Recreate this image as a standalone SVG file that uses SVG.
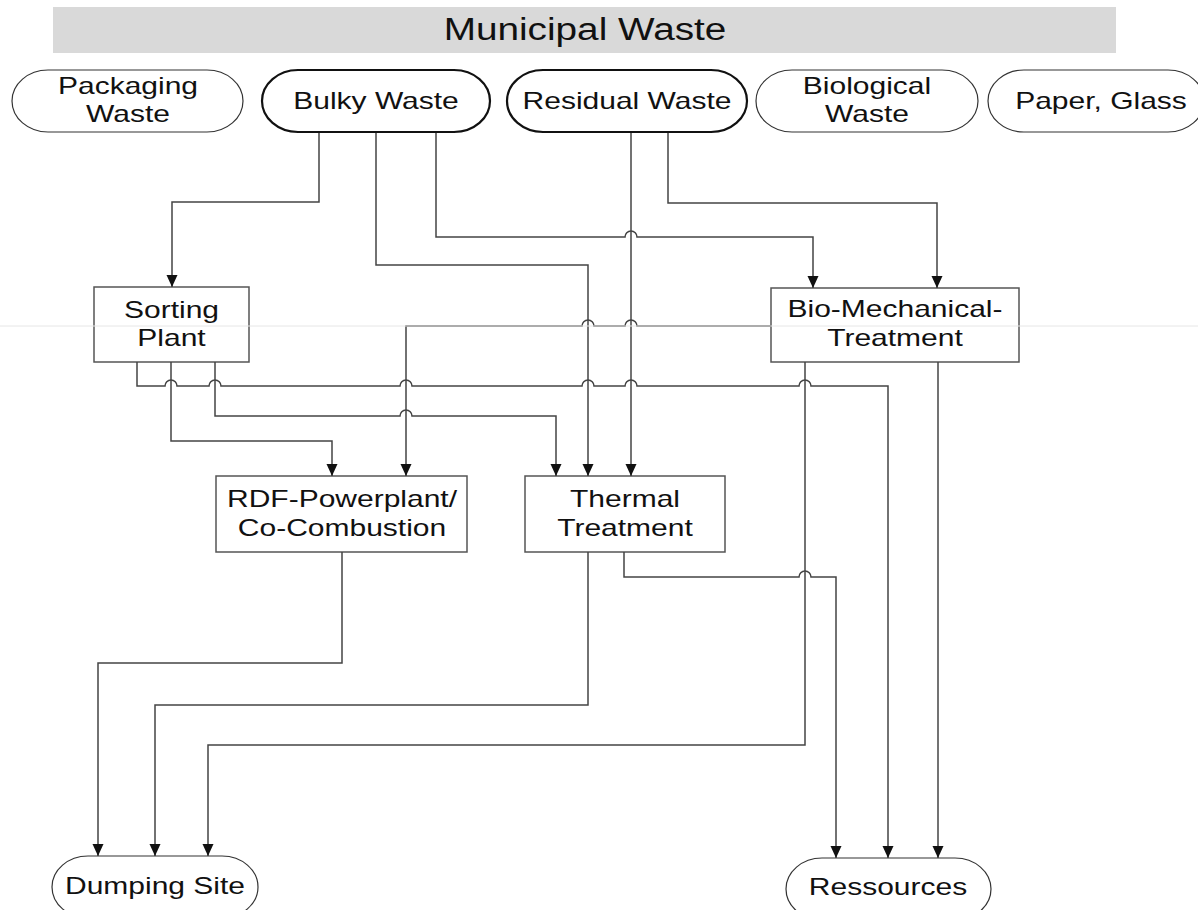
<svg xmlns="http://www.w3.org/2000/svg" width="1198" height="910" viewBox="0 0 1198 910">
<style>
.t{font-family:"Liberation Sans",Arial,sans-serif;font-size:24px;text-anchor:middle;fill:#111}
.title{font-family:"Liberation Sans",Arial,sans-serif;font-size:31px;text-anchor:middle;fill:#111}
.box{fill:#fff;stroke:#555;stroke-width:1.5}
.oval{fill:#fff;stroke:#333;stroke-width:1.2}
.ovalb{fill:#fff;stroke:#111;stroke-width:2.2}
.c{fill:none;stroke:#555;stroke-width:1.5}
.a{fill:none;stroke:#444;stroke-width:1.5;marker-end:url(#ah)}
</style>
<defs>
<marker id="ah" markerUnits="userSpaceOnUse" markerWidth="12" markerHeight="12" viewBox="0 0 12 12" refX="12" refY="6" orient="auto">
<path d="M0,0.5 L12,6 L0,11.5 Z" fill="#111"/>
</marker>
</defs>
<rect width="1198" height="910" fill="#fff"/>

<g id="banner">
<rect x="53" y="7" width="1063" height="46" fill="#d9d9d9"/>
<text class="title" transform="translate(585,40) scale(1.25,1)">Municipal Waste</text>
</g>

<g id="packaging">
<rect class="oval" x="12" y="70" width="231" height="62" rx="36" ry="31"/>
<text class="t" transform="translate(128,94) scale(1.25,1)">Packaging</text>
<text class="t" transform="translate(128,122) scale(1.25,1)">Waste</text>
</g>
<g id="bulky">
<rect class="ovalb" x="262" y="70" width="228" height="62" rx="36" ry="31"/>
<text class="t" transform="translate(376,109) scale(1.25,1)">Bulky Waste</text>
</g>
<g id="residual">
<rect class="ovalb" x="507" y="70" width="240" height="62" rx="36" ry="31"/>
<text class="t" transform="translate(627,109) scale(1.25,1)">Residual Waste</text>
</g>
<g id="biological">
<rect class="oval" x="756" y="70" width="222" height="62" rx="36" ry="31"/>
<text class="t" transform="translate(867,94) scale(1.25,1)">Biological</text>
<text class="t" transform="translate(867,122) scale(1.25,1)">Waste</text>
</g>
<g id="paper">
<rect class="oval" x="988" y="70" width="216" height="62" rx="36" ry="31"/>
<text class="t" transform="translate(1101,109) scale(1.25,1)">Paper, Glass</text>
</g>

<g id="sorting">
<rect class="box" x="94" y="287" width="155" height="75"/>
<text class="t" transform="translate(171.5,318) scale(1.25,1)">Sorting</text>
<text class="t" transform="translate(171.5,346) scale(1.25,1)">Plant</text>
</g>
<g id="biomech">
<rect class="box" x="771" y="288" width="248" height="74"/>
<text class="t" transform="translate(895,317) scale(1.25,1)">Bio-Mechanical-</text>
<text class="t" transform="translate(895,346) scale(1.25,1)">Treatment</text>
</g>
<g id="rdf">
<rect class="box" x="216" y="476" width="251" height="76"/>
<text class="t" transform="translate(342,507) scale(1.25,1)">RDF-Powerplant/</text>
<text class="t" transform="translate(342,536) scale(1.25,1)">Co-Combustion</text>
</g>
<g id="thermal">
<rect class="box" x="525" y="476" width="200" height="76"/>
<text class="t" transform="translate(625,507) scale(1.25,1)">Thermal</text>
<text class="t" transform="translate(625,536) scale(1.25,1)">Treatment</text>
</g>

<g id="dumping">
<rect class="oval" x="52" y="856" width="206" height="62" rx="36" ry="31"/>
<text class="t" transform="translate(155,894) scale(1.25,1)">Dumping Site</text>
</g>
<g id="ressources">
<rect class="oval" x="786" y="858" width="205" height="62" rx="36" ry="31"/>
<text class="t" transform="translate(888,895) scale(1.25,1)">Ressources</text>
</g>

<g id="connectors">
<!-- Bulky Waste -->
<path class="a" d="M319,133 V202 H172 V287"/>
<path class="a" d="M376,133 V265 H588 V476"/>
<path class="a" d="M436,133 V237 H625 A6,6 0 0 1 637,237 H813 V288"/>
<!-- Residual Waste -->
<path class="a" d="M631,133 V476"/>
<path class="a" d="M668,133 V203 H937 V288"/>
<!-- Bio-Mechanical -->
<path class="a" d="M771,326 H637 A6,6 0 0 0 625,326 H594 A6,6 0 0 0 582,326 H406 V476"/>
<path class="a" d="M805,362 V745 H208 V856"/>
<path class="a" d="M938,362 V858"/>
<!-- Sorting Plant -->
<path class="a" d="M137,362 V386 H165 A6,6 0 0 1 177,386 H209 A6,6 0 0 1 221,386 H400 A6,6 0 0 1 412,386 H582 A6,6 0 0 1 594,386 H625 A6,6 0 0 1 637,386 H799 A6,6 0 0 1 811,386 H888 V858"/>
<path class="a" d="M215,362 V416 H400 A6,6 0 0 1 412,416 H556 V476"/>
<path class="a" d="M171,362 V441 H332 V476"/>
<!-- RDF -->
<path class="a" d="M342,552 V663 H98 V856"/>
<!-- Thermal -->
<path class="a" d="M588,552 V705 H155 V856"/>
<path class="a" d="M624,552 V577 H799 A6,6 0 0 1 811,577 H836 V858"/>
</g>
<line x1="0" y1="326" x2="1198" y2="326" stroke="#e6e6e6" stroke-width="1"/>
</svg>
